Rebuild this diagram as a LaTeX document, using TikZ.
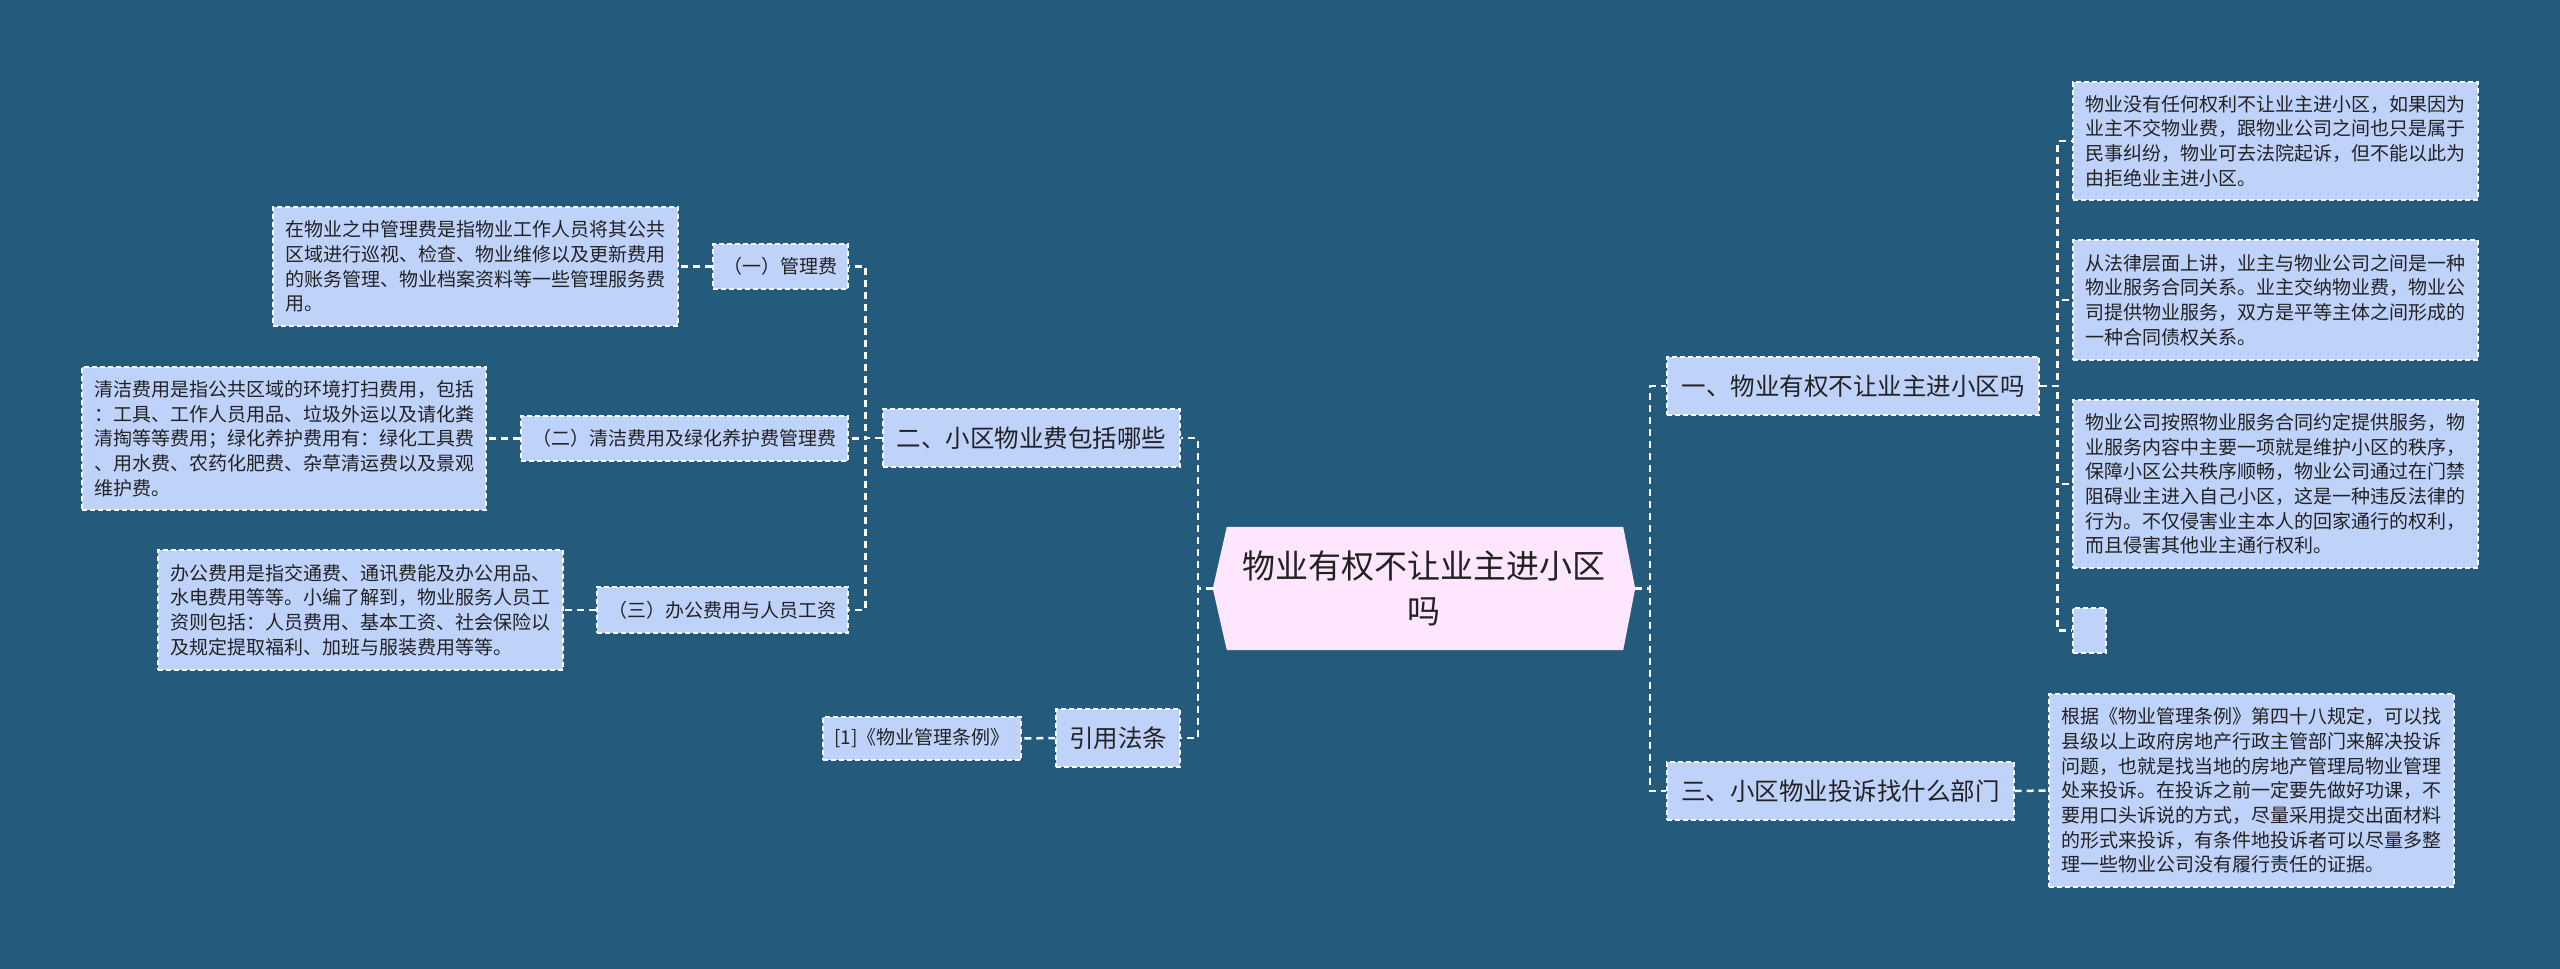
\documentclass[tikz,border=0pt]{standalone}
\usepackage{fontspec}
\setmainfont{Noto Sans CJK SC}
\usetikzlibrary{calc,backgrounds}
\definecolor{bg}{HTML}{245A7B}
\definecolor{boxfill}{HTML}{BFD2FA}
\definecolor{centerfill}{HTML}{FEE6FE}
\definecolor{txt}{HTML}{222222}
\begin{document}
\begin{tikzpicture}[x=1pt,y=-1pt,
  box/.style={draw=white, line width=1.4pt, dash pattern=on 5pt off 3pt, fill=boxfill, text=txt, inner sep=0pt, align=left},
  small/.style={box, font=\fontsize{19}{24.7}\selectfont},
  big/.style={box, font=\fontsize{24.5}{30}\selectfont, minimum height=58pt},
  conn/.style={draw=white, line width=2.5pt, dash pattern=on 7pt off 5pt}]
\useasboundingbox (0,0) rectangle (2560,969);

% central topic
\node[minimum width=422pt, minimum height=123pt, inner sep=0pt, align=center, text=txt,
      font=\fontsize{33}{45}\selectfont] (ctr) at (1424,588.5) {物业有权不让业主进小区\\吗};
\begin{pgfonlayer}{background}
\fill[bg] (0,0) rectangle (2560,969);
\fill[centerfill] (ctr.west) -- ($(ctr.north west)+(14,0)$) -- ($(ctr.north east)+(-12,0)$)
   -- (ctr.east) -- ($(ctr.south east)+(-12,0)$) -- ($(ctr.south west)+(14,0)$) -- cycle;
\end{pgfonlayer}

% left branch
\node[big, minimum width=297pt] (n2) at (1031.5,438) {二、小区物业费包括哪些};
\node[big, minimum width=124pt] (ref) at (1118,738) {引用法条};
\node[small, minimum width=198pt, minimum height=43pt] (refc) at (922,738.5) {[1]《物业管理条例》};

\node[small, minimum width=135pt, minimum height=45pt] (l1) at (780.5,266.5) {（一）管理费};
\node[small, minimum width=327pt, minimum height=45pt] (l2) at (684.5,438.5) {（二）清洁费用及绿化养护费管理费};
\node[small, minimum width=251pt, minimum height=46pt] (l3) at (722.5,610) {（三）办公费用与人员工资};

\node[small, minimum width=405pt, minimum height=119pt] (da) at (475.5,266.5)
  {在物业之中管理费是指物业工作人员将其公共\\区域进行巡视、检查、物业维修以及更新费用\\的账务管理、物业档案资料等一些管理服务费\\用。};
\node[small, minimum width=404pt, minimum height=143pt] (db) at (284,438.5)
  {清洁费用是指公共区域的环境打扫费用，包括\\：工具、工作人员用品、垃圾外运以及请化粪\\清掏等等费用；绿化养护费用有：绿化工具费\\、用水费、农药化肥费、杂草清运费以及景观\\维护费。};
\node[small, minimum width=405pt, minimum height=120pt] (dc) at (360.5,610)
  {办公费用是指交通费、通讯费能及办公用品、\\水电费用等等。小编了解到，物业服务人员工\\资则包括：人员费用、基本工资、社会保险以\\及规定提取福利、加班与服装费用等等。};

% right branch
\node[big, minimum width=372pt] (n1) at (1853,386) {一、物业有权不让业主进小区吗};
\node[big, minimum width=347pt] (n3) at (1840.5,791) {三、小区物业投诉找什么部门};

\node[small, minimum width=405pt, minimum height=118pt] (r1) at (2275.5,141)
  {物业没有任何权利不让业主进小区，如果因为\\业主不交物业费，跟物业公司之间也只是属于\\民事纠纷，物业可去法院起诉，但不能以此为\\由拒绝业主进小区。};
\node[small, minimum width=405pt, minimum height=120pt] (r2) at (2275.5,300)
  {从法律层面上讲，业主与物业公司之间是一种\\物业服务合同关系。业主交纳物业费，物业公\\司提供物业服务，双方是平等主体之间形成的\\一种合同债权关系。};
\node[small, minimum width=405pt, minimum height=168pt] (r3) at (2275.5,484)
  {物业公司按照物业服务合同约定提供服务，物\\业服务内容中主要一项就是维护小区的秩序，\\保障小区公共秩序顺畅，物业公司通过在门禁\\阻碍业主进入自己小区，这是一种违反法律的\\行为。不仅侵害业主本人的回家通行的权利，\\而且侵害其他业主通行权利。};
\node[small, minimum width=33pt, minimum height=45pt] (r4) at (2089.5,630.5) {};
\node[small, minimum width=405pt, minimum height=193pt] (r5) at (2251.5,790.5)
  {根据《物业管理条例》第四十八规定，可以找\\县级以上政府房地产行政主管部门来解决投诉\\问题，也就是找当地的房地产管理局物业管理\\处来投诉。在投诉之前一定要先做好功课，不\\要用口头诉说的方式，尽量采用提交出面材料\\的形式来投诉，有条件地投诉者可以尽量多整\\理一些物业公司没有履行责任的证据。};

% connectors
\draw[conn] (ctr.west) -- ++(-15,0) |- (n2.east);
\draw[conn] (ctr.west) -- ++(-15,0) |- (ref.east);
\draw[conn] (ctr.east) -- ++(15,0) |- (n1.west);
\draw[conn] (ctr.east) -- ++(15,0) |- (n3.west);

\draw[conn] (n2.west) -- ++(-17,0) |- (l1.east);
\draw[conn] (n2.west) -- ++(-17,0) |- (l2.east);
\draw[conn] (n2.west) -- ++(-17,0) |- (l3.east);
\draw[conn] (l1.west) -- (da.east);
\draw[conn] (l2.west) -- (db.east);
\draw[conn] (l3.west) -- (dc.east);
\draw[conn] (ref.west) -- (refc.east);

\draw[conn] (n1.east) -- ++(18,0) |- (r1.west);
\draw[conn] (n1.east) -- ++(18,0) |- (r2.west);
\draw[conn] (n1.east) -- ++(18,0) |- (r3.west);
\draw[conn] (n1.east) -- ++(18,0) |- (r4.west);
\draw[conn] (n3.east) -- (r5.west);
\end{tikzpicture}
\end{document}
